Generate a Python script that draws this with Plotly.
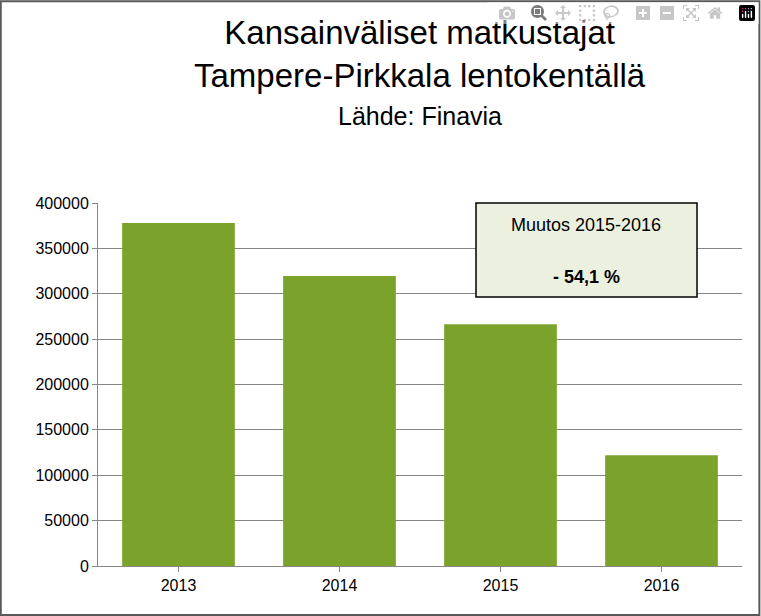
import plotly.graph_objects as go

years = ["2013", "2014", "2015", "2016"]
passengers = [378000, 319500, 266500, 122000]
tick_vals = [0, 50000, 100000, 150000, 200000, 250000, 300000, 350000, 400000]

fig = go.Figure(go.Bar(x=years, y=passengers, marker=dict(color="#7BA32C", line=dict(width=0)), width=0.7))

fig.update_layout(
    width=761, height=616,
    margin=dict(l=98, r=19, t=203, b=50),
    paper_bgcolor="white", plot_bgcolor="white",
    font=dict(family="Liberation Sans, Arial", color="black", size=16),
    showlegend=False,
    xaxis=dict(showline=True, linecolor="#868686", ticks="outside", tickcolor="#868686",
               tickfont=dict(size=16), showgrid=False),
    yaxis=dict(range=[0, 400000], tickvals=tick_vals, tickformat="d", showgrid=True, gridcolor="#868686",
               showline=True, linecolor="#868686", ticks="outside", tickcolor="#868686",
               tickfont=dict(size=16), zeroline=False),
    shapes=[
        dict(type="rect", xref="paper", yref="paper", x0=-0.151, y0=-0.135, x1=1.027, y1=1.556,
             line=dict(color="#595959", width=2)),
        dict(type="rect", xref="paper", yref="paper", x0=(476-98)/644, x1=(697-98)/644,
             y0=(566-297)/363, y1=1.0, fillcolor="#EBF1DE", line=dict(color="black", width=1.5)),
    ],
    annotations=[
        dict(text="Kansainväliset matkustajat<br>Tampere-Pirkkala lentokentällä",
             xref="paper", yref="paper", x=0.5, y=(566-12)/363, xanchor="center", yanchor="top",
             showarrow=False, font=dict(size=33)),
        dict(text="Lähde: Finavia", xref="paper", yref="paper", x=0.5, y=(566-100)/363,
             xanchor="center", yanchor="top", showarrow=False, font=dict(size=25)),
        dict(text="Muutos 2015-2016", xref="paper", yref="paper", x=(586-98)/644, y=(566-225)/363,
             xanchor="center", yanchor="middle", showarrow=False, font=dict(size=18)),
        dict(text="<b>- 54,1 %</b>", xref="paper", yref="paper", x=(586-98)/644, y=(566-277)/363,
             xanchor="center", yanchor="middle", showarrow=False, font=dict(size=18)),
    ],
)
fig.write_html("out.html")
with open("out.html", encoding="utf-8") as f:
    html = f.read()
html = html.replace("<body>", '<body style="margin:0;overflow:hidden">', 1)
with open("out.html", "w", encoding="utf-8") as f:
    f.write(html)
